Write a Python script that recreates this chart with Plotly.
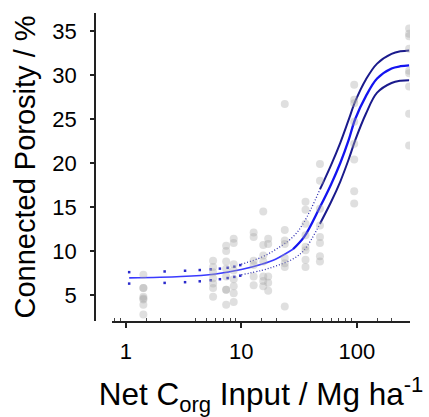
import plotly.graph_objects as go

obs_x = ([1.42] * 8 + [5.7] * 7 + [7.4] * 8 + [8.6] * 8 + [12.8] * 6 + [15.5] * 7 +
         [17.1] * 5 + [23.8] * 8 + [36.0] * 8 + [48.0] * 8 + [95.0] * 8 + [284.0] * 9)
obs_y = [7.3, 5.8, 5.8, 4.8, 4.6, 4.5, 3.9, 2.8,
         8.9, 8.2, 7.6, 6.9, 6.3, 5.8, 4.8,
         10.6, 10.0, 8.8, 8.0, 7.1, 5.6, 5.6, 3.9,
         11.4, 10.9, 8.5, 7.8, 6.8, 6.0, 5.2, 4.2,
         12.1, 11.6, 8.9, 8.4, 7.1, 6.1,
         14.5, 10.7, 9.5, 8.8, 7.1, 6.6, 6.0,
         11.4, 10.8, 7.1, 6.4, 5.5,
         26.7, 12.4, 11.2, 10.8, 9.2, 8.6, 8.2, 3.7,
         15.6, 14.7, 13.1, 11.8, 10.5, 10.1, 9.0, 8.2,
         19.9, 18.0, 14.8, 12.9, 11.6, 10.9, 9.4, 8.8,
         28.9, 27.2, 26.8, 24.7, 22.2, 20.4, 16.8, 15.4,
         35.3, 34.7, 34.4, 33.0, 30.5, 30.2, 28.7, 25.6, 22.0]

# ---- fitted curve and confidence band ----
fit_x = [1.07, 3, 6, 10, 15, 20, 28, 35, 48, 60, 72, 85, 97, 120, 150, 200, 240, 284]
fit_y = [6.95, 7.1, 7.4, 7.9, 8.5, 9.1, 10.2, 11.6, 15.0, 17.6, 20.0, 22.6, 25.0, 27.6, 29.6, 30.75, 31.0, 31.1]
upper_y = [7.6, 7.75, 7.95, 8.5, 9.3, 10.2, 11.6, 13.3, 17.0, 19.8, 22.3, 24.9, 27.0, 29.5, 31.3, 32.4, 32.7, 32.8]
lower_y = [6.3, 6.45, 6.8, 7.3, 7.8, 8.3, 9.1, 10.1, 13.1, 15.6, 17.9, 20.4, 22.6, 25.6, 28.0, 29.1, 29.35, 29.4]

# sparse band dots at low input values
dot_x = [1.07, 2.17, 3.26, 4.37, 5.44, 6.53, 7.62, 8.71, 9.8]
dot_upper = [7.6, 7.68, 7.76, 7.84, 7.92, 8.0, 8.1, 8.22, 8.4]
dot_lower = [6.3, 6.38, 6.46, 6.56, 6.68, 6.8, 6.93, 7.06, 7.2]

x_tickvals = [1, 10, 100]
x_ticktext = ["1", "10", "100"]
x_minor = [0.8, 0.9, 1.5, 2, 4, 5, 6, 7, 8, 9, 15, 20, 40, 50, 60, 70, 80, 90, 150, 200]
y_tickvals = [5, 10, 15, 20, 25, 30, 35]

BAND = "#1a1a8c"
FONT = "Arial, Liberation Sans, sans-serif"

fig = go.Figure()

# band: sparse dots (low x)
for yy in (dot_upper, dot_lower):
    fig.add_trace(go.Scatter(x=dot_x, y=yy, mode="markers",
                             marker=dict(size=2.5, color="#2a2acc", symbol="square"),
                             hoverinfo="skip", showlegend=False))

# band: dotted then solid parts
split_a = fit_x.index(10)
split_b = fit_x.index(48)
for yy in (upper_y, lower_y):
    fig.add_trace(go.Scatter(x=fit_x[split_a:split_b + 1], y=yy[split_a:split_b + 1], mode="lines",
                             line=dict(color="#2a2ab0", width=1.3, dash="1px,2px", shape="spline"),
                             hoverinfo="skip", showlegend=False))
    fig.add_trace(go.Scatter(x=fit_x[split_b:], y=yy[split_b:], mode="lines",
                             line=dict(color=BAND, width=2, shape="spline"),
                             hoverinfo="skip", showlegend=False))

# fitted curve: thin at low inputs, heavier where it rises
split_c = fit_x.index(28)
fig.add_trace(go.Scatter(x=fit_x[:split_c + 1], y=fit_y[:split_c + 1], mode="lines",
                         line=dict(color="#3a3aff", width=1.6, shape="spline"),
                         hoverinfo="skip", showlegend=False))
fig.add_trace(go.Scatter(x=fit_x[split_c:], y=fit_y[split_c:], mode="lines",
                         line=dict(color="#1414f0", width=2.3, shape="spline"),
                         hoverinfo="skip", showlegend=False))

# observations
fig.add_trace(go.Scatter(x=obs_x, y=obs_y, mode="markers",
                         marker=dict(size=8, color="rgba(165,165,165,0.36)", line=dict(width=0)),
                         showlegend=False))

fig.update_layout(
    width=429, height=417,
    margin=dict(l=95, r=19, t=13, b=96),
    paper_bgcolor="white", plot_bgcolor="white",
    font=dict(family=FONT, color="black"),
    xaxis=dict(
        type="log", domain=[0.054, 1], range=[-0.1192, 2.4609], automargin=False,
        tickmode="array", tickvals=x_tickvals, ticktext=x_ticktext,
        ticks="outside", ticklen=5, tickwidth=1.5, tickcolor="#222",
        minor=dict(tickmode="array", tickvals=x_minor, ticks="inside", ticklen=3,
                   tickwidth=1, tickcolor="#444", showgrid=False),
        showline=True, linecolor="#222", linewidth=1.5,
        showgrid=False, zeroline=False,
        tickfont=dict(size=22, family=FONT), ticklabelstandoff=5,
        title=dict(text="Net C<sub>org</sub> Input / Mg ha<sup>-1</sup>",
                   font=dict(size=31.5, family=FONT), standoff=24),
    ),
    yaxis=dict(
        anchor="free", position=0, range=[2.05, 37.05], automargin=False,
        tickmode="array", tickvals=y_tickvals,
        ticks="outside", ticklen=4, tickwidth=1.5, tickcolor="#222",
        showline=True, linecolor="#222", linewidth=1.5,
        showgrid=False, zeroline=False,
        tickfont=dict(size=22, family=FONT), ticklabelstandoff=9,
        title=dict(text="Connected Porosity / %", font=dict(size=29, family=FONT), standoff=7),
    ),
)

# remove the browser's default page margin so the figure sits at the window origin
fig.write_html("out.html", config={"displayModeBar": False},
               post_script="document.body.style.margin='0px';")
